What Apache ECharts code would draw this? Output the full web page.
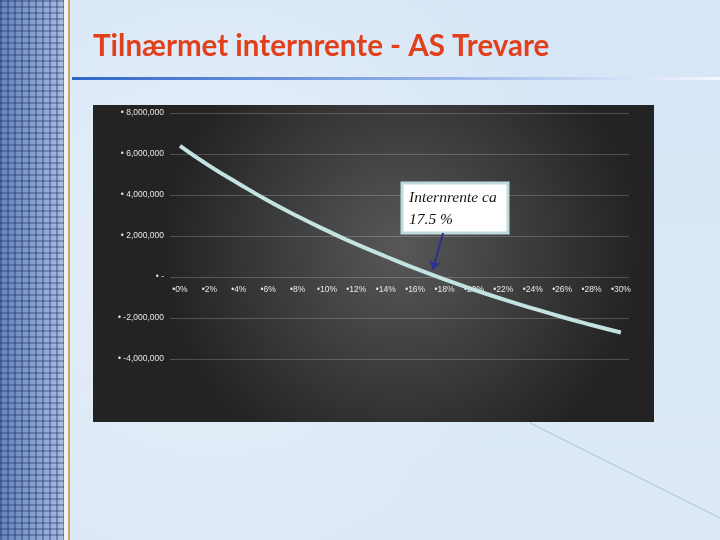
<!DOCTYPE html>
<html>
<head>
<meta charset="utf-8">
<script src="https://cdn.jsdelivr.net/npm/echarts@6/dist/echarts.min.js"></script>
<style>
  html,body{margin:0;padding:0;width:720px;height:540px;overflow:hidden;}
  body{background:#dbe8f6;position:relative;}
  #bg{position:absolute;left:0;top:0;width:720px;height:540px;
      background:
        radial-gradient(circle at 30% 40%, rgba(255,255,255,0.35) 0, rgba(255,255,255,0) 60%),
        linear-gradient(180deg,#d6e6f6,#dde9f6);}
  #strip{position:absolute;left:0;top:0;width:64px;height:540px;
      background:
        repeating-linear-gradient(90deg, rgba(20,40,90,0.35) 0 2px, rgba(0,0,0,0) 2px 7px),
        repeating-linear-gradient(180deg, rgba(20,40,90,0.3) 0 2px, rgba(0,0,0,0) 2px 6px),
        linear-gradient(90deg,#6784bb,#90a9d6 70%,#aabde0);}
  #gap{position:absolute;left:64px;top:0;width:6px;height:540px;background:#eef3fa;}
  #gold{position:absolute;left:68px;top:-20px;width:14px;height:580px;
      border-left:2px solid #c9a862;border-radius:30px 0 0 0;}
  #chart{position:absolute;left:0;top:0;width:720px;height:540px;}
</style>
</head>
<body>
<div id="bg"></div>
<div id="strip"></div>
<div id="gap"></div>
<div id="gold"></div>
<div id="chart"></div>
<script>
// Data
const rates = [0, 2, 4, 6, 8, 10, 12, 14, 16, 18, 20, 22, 24, 26, 28, 30]; // percent
const npv = [6400000, 5420000, 4550000, 3720000, 2960000, 2260000, 1600000, 1000000,
             420000, -120000, -620000, -1090000, -1530000, -1950000, -2340000, -2710000];
const yMin = -4000000, yMax = 8000000, yStep = 2000000;
const titleText = 'Tilnærmet internrente - AS Trevare';
const noteLines = ['Internrente ca', '17.5 %'];
const irrArrow = { from: [17.9, 2150000], to: [17.2, 350000] };

const chart = echarts.init(document.getElementById('chart'), null, { renderer: 'canvas' });

const option = {
  backgroundColor: 'transparent',
  animation: false,
  title: {
    text: titleText,
    left: 88, top: 26,
    textStyle: { color: '#e2401b', fontFamily: 'Lato', fontWeight: 'bold', fontSize: 29.5 }
  },
  grid: { left: 170, right: 91, top: 113, bottom: 181, containLabel: false },
  xAxis: {
    type: 'value', min: -0.68, max: 30.55,
    offset: -82,
    axisLine: { show: false, onZero: false },
    axisTick: { show: false },
    splitLine: { show: false },
    axisLabel: {
      customValues: rates,
      formatter: v => '\u2022' + v + '%',
      color: '#e6e6e6', fontSize: 8.5, fontFamily: 'Liberation Sans', margin: 8
    }
  },
  yAxis: {
    type: 'value', min: yMin, max: yMax, interval: yStep,
    axisLine: { show: false },
    axisTick: { show: false },
    splitLine: { lineStyle: { color: 'rgba(255,255,255,0.2)', width: 1 } },
    axisLabel: {
      formatter: v => v === 0 ? '\u2022 -' : '\u2022 ' + v.toLocaleString('en-US'),
      color: '#e6e6e6', fontSize: 8.5, fontFamily: 'Liberation Sans', margin: 6
    }
  },
  series: [{
    type: 'line',
    data: rates.map((r, i) => [r, npv[i]]),
    smooth: true,
    showSymbol: false,
    lineStyle: { color: '#c3e3e3', width: 4 },
    z: 3,
    markLine: {
      silent: true,
      symbol: ['none', 'arrow'],
      symbolSize: 9,
      label: { show: false },
      lineStyle: { color: '#2e2f92', width: 2, type: 'solid' },
      data: [[{ coord: irrArrow.from }, { coord: irrArrow.to }]]
    }
  }],
  graphic: [
    {
      type: 'rect', z: -10,
      shape: { x: 93, y: 105, width: 561, height: 317 },
      style: {
        fill: new echarts.graphic.RadialGradient(0.55, 0.45, 0.75, [
          { offset: 0, color: '#585858' },
          { offset: 1, color: '#232323' }
        ])
      }
    },
    {
      type: 'rect', z: -11,
      shape: { x: 72, y: 77, width: 648, height: 3 },
      style: {
        fill: new echarts.graphic.LinearGradient(0, 0, 1, 0, [
          { offset: 0, color: '#2f66c8' },
          { offset: 0.6, color: '#9db8ea' },
          { offset: 1, color: '#f4f8ff' }
        ])
      }
    },
    {
      type: 'line', z: -11,
      shape: { x1: 530, y1: 423, x2: 720, y2: 518 },
      style: { stroke: '#a6c2d8', lineWidth: 1 }
    },
    {
      type: 'group', z: 50,
      children: [
        {
          type: 'rect',
          shape: { x: 402, y: 183, width: 106, height: 50 },
          style: { fill: '#ffffff', stroke: '#bcdcdc', lineWidth: 3 }
        },
        {
          type: 'text', x: 409, y: 190,
          style: { text: noteLines[0], fill: '#111', font: 'italic 15.5px "Liberation Serif"' }
        },
        {
          type: 'text', x: 409, y: 212,
          style: { text: noteLines[1], fill: '#111', font: 'italic 15.5px "Liberation Serif"' }
        }
      ]
    }
  ]
};
chart.setOption(option);
</script>
</body>
</html>
